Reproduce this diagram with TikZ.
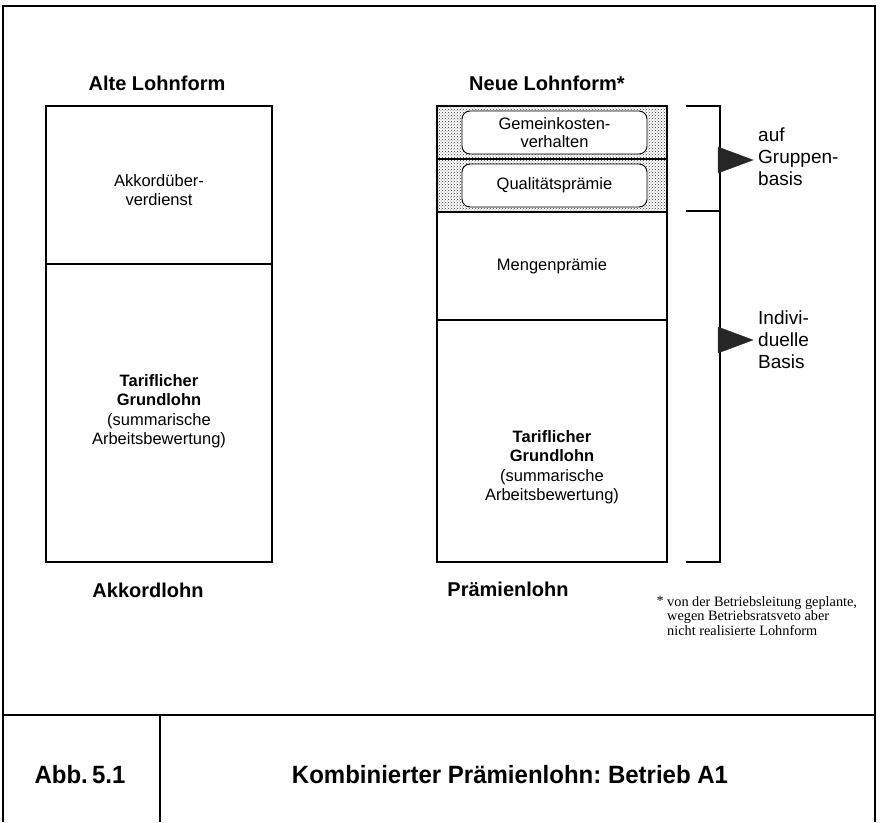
\documentclass[tikz,border=0pt]{standalone}
\usepackage{fontspec}
\setmainfont{Liberation Sans}
\newfontfamily\serif{Liberation Serif}
\newfontfamily\narrow[FakeStretch=0.96]{Liberation Sans}
\usetikzlibrary{patterns}
\frenchspacing
\begin{document}
\begin{tikzpicture}[x=1pt,y=-1pt,
  frame/.style={line width=1.4pt},
  box/.style={line width=1.4pt},
  head/.style={font=\fontsize{20}{22}\selectfont\bfseries, inner sep=0pt},
  txt/.style={font=\fontsize{16.5}{18.5}\selectfont, align=center, inner sep=0pt},
  side/.style={font=\fontsize{19}{22}\selectfont, align=left, anchor=west, inner sep=0pt},
  tri/.style={fill=black!85, draw=black!85},
  pill/.style={draw, fill=white, rounded corners=8pt, line width=0.9pt},
  hatch/.style={pattern=crosshatch dots, pattern color=black!80},
  captext/.style={font=\narrow\fontsize{25}{28}\selectfont\bfseries, inner sep=0pt},
  note/.style={font=\serif\fontsize{14.3}{14.8}\selectfont, inner sep=0pt}
]
\useasboundingbox (0,0) rectangle (880,822);
% outer frame
\draw[frame] (3,822) -- (3,6) -- (875,6) -- (875,822);
\draw[frame] (3,715) -- (875,715);
\draw[frame] (160,715) -- (160,822);
\node[captext] (abb) at (80,775) {Abb.\,5.1};
\node[captext] (title) at (510,775) {Kombinierter Prämienlohn: Betrieb A1};

% headings
\node[head] (alt) at (157,83) {Alte Lohnform};
\node[head] (neu) at (547,83) {Neue Lohnform*};

% left column
\draw[box] (46,106) rectangle (272,562);
\draw[box] (46,264) -- (272,264);
\node[txt] (akk) at (159,190) {Akkordüber-\\verdienst};
\node[txt] (tgl) at (159,411) {\textbf{Tariflicher}\\\textbf{Grundlohn}\\[2pt](summarische\\Arbeitsbewertung)};
\node[head] (akl) at (148,590) {Akkordlohn};

% right column
\fill[hatch] (437,106) rectangle (667,212);
\draw[box] (437,106) rectangle (667,562);
\draw[box] (437,159) -- (667,159);
\draw[box] (437,212) -- (667,212);
\draw[box] (437,320) -- (667,320);
\draw[pill] (462,111) rectangle (647,154);
\draw[pill] (462,164) rectangle (647,207);
\node[txt] (gem) at (554.5,132.5) {Gemeinkosten-\\verhalten};
\node[txt] (qual) at (554.5,185.5) {Qualitätsprämie};
\node[txt] (meng) at (552,266) {Mengenprämie};
\node[txt] (tgr) at (552,467) {\textbf{Tariflicher}\\\textbf{Grundlohn}\\[2pt](summarische\\Arbeitsbewertung)};
\node[head] (pra) at (508,589) {Prämienlohn};

% bracket
\draw[box] (686,106) -- (720,106) -- (720,562) -- (686,562);
\draw[box] (686,211) -- (720,211);
\draw[tri] (718,147) -- (753,160) -- (718,173) -- cycle;
\draw[tri] (718,327) -- (753,340) -- (718,353) -- cycle;
\node[side] (grp) at (758,157) {auf\\Gruppen-\\basis};
\node[side] (ind) at (758,340) {Indivi-\\duelle\\Basis};

% footnote
\node[note, align=left, anchor=north west] (fn) at (667,596) {von der Betriebsleitung geplante,\\wegen Betriebsratsveto aber\\nicht realisierte Lohnform};
\node[note, anchor=north east] (star) at (664,596) {*};
\end{tikzpicture}
\end{document}
